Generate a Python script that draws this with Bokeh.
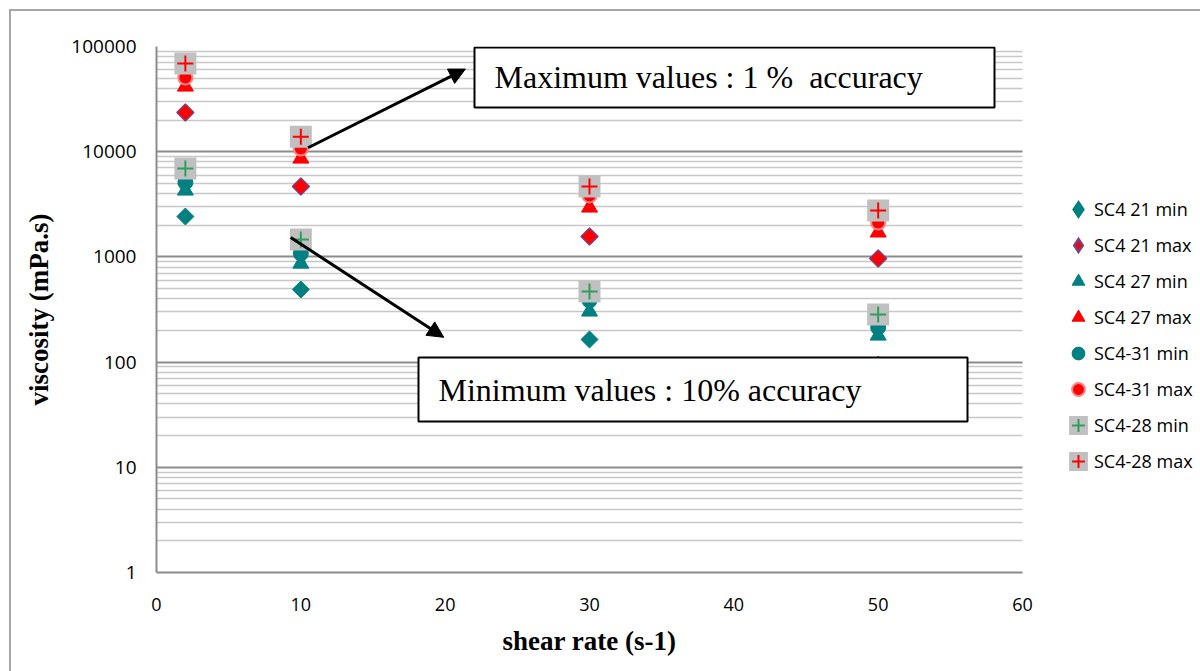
import math
from bokeh.plotting import figure
from bokeh.models import (Range1d, FixedTicker, NumeralTickFormatter, Legend, LegendItem,
                          Arrow, NormalHead, Label, BoxAnnotation, Title)
from bokeh.embed import file_html
from bokeh.resources import INLINE

# ---- data ----
shear = [2, 10, 30, 50]
sc4_21_min = [2420, 490, 164, 95]
sc4_21_max = [23600, 4670, 1560, 966]
sc4_27_min = [4280, 865, 303, 179]
sc4_27_max = [41700, 8620, 2950, 1710]
sc4_31_min = [5100, 1080, 385, 213]
sc4_31_max = [50700, 10700, 3840, 2120]
sc4_28_min = [6920, 1460, 469, 283]
sc4_28_max = [68900, 13900, 4670, 2760]

x_ticks = [0, 10, 20, 30, 40, 50, 60]
y_ticks = [1, 10, 100, 1000, 10000, 100000]
y_minor = [d * k for d in y_ticks[:-1] for k in range(2, 10)]

x_title = "shear rate (s-1)"
y_title = "viscosity (mPa.s)"

# annotation arrows (data coordinates)
arrow_max = dict(x_start=10.5, y_start=10900, x_end=21.4, y_end=61000)
arrow_min = dict(x_start=9.3, y_start=1530, x_end=19.9, y_end=172)

TEAL = "#008080"
RED = "#ff0000"
GRAY = "#c0c0c0"
GREEN = "#2f9e5c"
FRAME_GRAY = "#a6a6a6"
NAN = float("nan")

W, H = 1200, 671
FL, FT, AXR, FB = 156, 46, 1022, 572  # plot area in canvas px (AXR = where x=60 sits)
FR = W                                # frame extends to the right edge (legend lives inside)
X_MAX = x_ticks[-1]
x_end = X_MAX * (FR - FL) / (AXR - FL)

p = figure(width=W, height=H, output_backend="svg", toolbar_location=None,
           y_axis_type="log", x_range=Range1d(0, x_end), y_range=Range1d(1, 100000),
           min_border_left=FL, min_border_top=FT, min_border_right=0,
           min_border_bottom=H - FB)
p.outline_line_color = None
p.background_fill_color = "white"
p.border_fill_alpha = 0
# outer document frame (left and top edge lines) drawn behind the transparent canvas border
p.styles = {
    "background": (f"linear-gradient({FRAME_GRAY},{FRAME_GRAY}) 9px 9px / 2px 800px no-repeat, "
                   f"linear-gradient({FRAME_GRAY},{FRAME_GRAY}) 9px 9px / 1400px 2px no-repeat, "
                   "white"),
}

# axes
p.xaxis.ticker = FixedTicker(ticks=x_ticks)
p.xaxis.bounds = (0, X_MAX)
p.yaxis.ticker = FixedTicker(ticks=y_ticks, minor_ticks=y_minor)
p.yaxis.formatter = NumeralTickFormatter(format="0")
for ax in (p.xaxis[0], p.yaxis[0]):
    ax.axis_line_color = "#8c8c8c"
    ax.axis_line_width = 2
    ax.major_tick_line_color = None
    ax.minor_tick_line_color = None
    ax.major_label_text_font = "Open Sans"
    ax.major_label_text_color = "black"
    ax.axis_label_text_font = "Liberation Serif"
    ax.axis_label_text_font_style = "bold"
    ax.axis_label_text_color = "black"
p.xaxis.major_label_text_font_size = "18px"
p.yaxis.major_label_text_font_size = "19px"
p.xaxis.major_label_standoff = 19
p.yaxis.major_label_standoff = 14
p.yaxis.axis_label = y_title
p.yaxis.axis_label_text_font_size = "27px"
p.yaxis.axis_label_standoff = 14

# x title centred under the 0..60 axis (not under the widened frame)
TITLE_FS = 27
title_w = 174
p.add_layout(Title(text=x_title, align="left", offset=(FL + AXR) / 2 - title_w / 2 - FL,
                   text_font="Liberation Serif", text_font_style="bold",
                   text_font_size=f"{TITLE_FS}px", text_color="black", standoff=20),
             "below")

# grid
p.xgrid.visible = False
p.ygrid.grid_line_color = "#8c8c8c"
p.ygrid.grid_line_width = 2
p.ygrid.minor_grid_line_color = "#c8c8c8"
p.ygrid.minor_grid_line_width = 1.5

# white cover so the gridlines stop at x = 60 (legend area to the right)
p.add_layout(BoxAnnotation(left=X_MAX, fill_color="white", fill_alpha=1.0,
                           line_color=None, level="underlay"))

# series
r21min = p.scatter(shear, sc4_21_min, marker="square", angle=math.pi / 4, size=12,
                   fill_color=TEAL, line_color=TEAL)
r21max = p.scatter(shear, sc4_21_max, marker="square", angle=math.pi / 4, size=12,
                   fill_color=RED, line_color="#7f3f7f", line_width=1.5)
r27min = p.scatter(shear, sc4_27_min, marker="triangle", size=16,
                   fill_color=TEAL, line_color=TEAL)
r27max = p.scatter(shear, sc4_27_max, marker="triangle", size=16,
                   fill_color=RED, line_color=RED)
r31min = p.scatter(shear, sc4_31_min, marker="circle", size=15,
                   fill_color=TEAL, line_color=TEAL)
r31max = p.scatter(shear, sc4_31_max, marker="circle", size=14,
                   fill_color=RED, line_color="#ff8080", line_width=2)
r28min_s = p.scatter(shear, sc4_28_min, marker="square", size=16,
                     fill_color=GRAY, line_color=GRAY, line_width=6, line_join="miter")
r28min_c = p.scatter(shear, sc4_28_min, marker="cross", size=16,
                     line_color=GREEN, line_width=2)
r28max_s = p.scatter(shear, sc4_28_max, marker="square", size=16,
                     fill_color=GRAY, line_color=GRAY, line_width=6, line_join="miter")
r28max_c = p.scatter(shear, sc4_28_max, marker="cross", size=16,
                     line_color=RED, line_width=2)

# legend-only diamond glyphs (the legend does not rotate markers); NaN point = never drawn
l21min = p.scatter([NAN], [NAN], marker="diamond", size=12, fill_color=TEAL,
                   line_color=TEAL, line_width=3.5, line_join="miter")
l21max = p.scatter([NAN], [NAN], marker="diamond", size=12, fill_color=RED,
                   line_color="#7f3f7f", line_width=2.5, line_join="miter")

# arrows
for a in (arrow_max, arrow_min):
    p.add_layout(Arrow(end=NormalHead(size=16, fill_color="black", line_color="black"),
                       line_color="black", line_width=3, **a))

# text boxes (screen units relative to frame bottom-left)
def box(l, t, r, b):
    return BoxAnnotation(left=l - FL, right=r - FL, top=FB - t, bottom=FB - b,
                         left_units="screen", right_units="screen",
                         top_units="screen", bottom_units="screen",
                         fill_color="white", fill_alpha=1.0,
                         line_color="black", line_width=2, line_alpha=1.0)

p.add_layout(box(474, 47, 994, 107))
p.add_layout(Label(x=494 - FL, y=FB - 76, x_units="screen", y_units="screen",
                   text="Maximum values : 1 %\u00a0 accuracy", text_font="Liberation Serif",
                   text_font_size="32px", text_baseline="middle", text_color="black"))
p.add_layout(box(418, 357, 967, 421))
p.add_layout(Label(x=438 - FL, y=FB - 389, x_units="screen", y_units="screen",
                   text="Minimum values : 10% accuracy", text_font="Liberation Serif",
                   text_font_size="32px", text_baseline="middle", text_color="black"))

# legend (inside the widened frame, location = legend bottom-left relative to frame)
items = [
    LegendItem(label="SC4 21 min", renderers=[l21min]),
    LegendItem(label="SC4 21 max", renderers=[l21max]),
    LegendItem(label="SC4 27 min", renderers=[r27min]),
    LegendItem(label="SC4 27 max", renderers=[r27max]),
    LegendItem(label="SC4-31 min", renderers=[r31min]),
    LegendItem(label="SC4-31 max", renderers=[r31max]),
    LegendItem(label="SC4-28 min", renderers=[r28min_s, r28min_c]),
    LegendItem(label="SC4-28 max", renderers=[r28max_s, r28max_c]),
]
GW = 32
legend = Legend(items=items, location=(1078 - GW / 2 - FL, FB - 477), padding=0, margin=0,
                spacing=36 - GW, glyph_width=GW, glyph_height=GW, label_height=GW,
                label_standoff=0, border_line_color=None, background_fill_alpha=0,
                label_text_font="Open Sans", label_text_font_size="18px",
                label_text_color="black")
p.add_layout(legend)

open("out.html", "w").write(file_html(p, INLINE))
